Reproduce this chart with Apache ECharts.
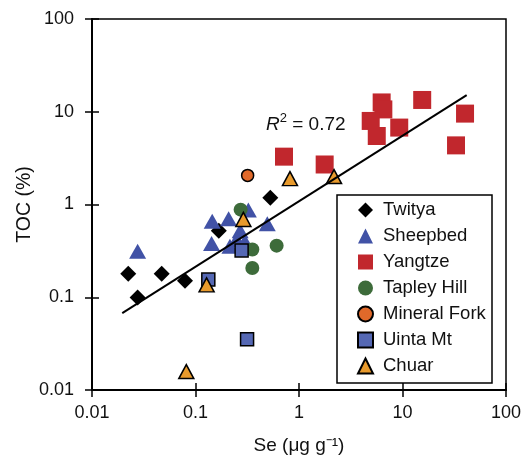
<!DOCTYPE html>
<html>
<head>
<meta charset="utf-8">
<script src="https://cdn.jsdelivr.net/npm/echarts@6/dist/echarts.min.js"></script>
<style>html,body{margin:0;padding:0;background:#fff}#c{width:524px;height:455px}</style>
</head>
<body>
<div id="c"></div>
<script>
var twitya = [[0.0224,0.179],[0.0276,0.0995],[0.0471,0.179],[0.0792,0.151],[0.168,0.52],[0.528,1.18]];
var sheepbed = [[0.0276,0.313],[0.145,0.66],[0.209,0.70],[0.324,0.87],[0.494,0.62],[0.143,0.379],[0.27,0.52],[0.215,0.355],[0.25,0.42],[0.30,0.40]];
var yangtze = [[0.716,3.28],[1.77,2.70],[6.29,12.6],[6.53,10.6],[4.93,7.96],[5.64,5.48],[9.3,6.75],[15.5,13.4],[40.2,9.55],[32.9,4.34]];
var tapleyHill = [[0.273,0.88],[0.354,0.327],[0.354,0.207],[0.608,0.36]];
var mineralFork = [[0.319,2.06]];
var uintaMt = [[0.133,0.155],[0.279,0.32],[0.315,0.0353]];
var chuar = [[0.0815,0.0158],[0.128,0.136],[0.29,0.69],[0.818,1.90],[2.18,2.0]];
var fitLine = [[0.0196,0.0675],[41.7,15.1]];
var tickValues = [0.01,0.1,1,10,100];

var chart = echarts.init(document.getElementById('c'), null, {renderer:'canvas'});
var font = 'Liberation Sans, Arial, Helvetica, sans-serif';
function fmt(v){ return String(+Number(v).toPrecision(3)); }
var axisBase = {
  type:'log', logBase:10, min:tickValues[0], max:tickValues[tickValues.length-1],
  splitLine:{show:false}, minorTick:{show:false}
};
function mkX(inside){
  return Object.assign({}, axisBase, {
    gridIndex:0, position:'bottom',
    axisLine:{show:!inside, lineStyle:{color:'#000', width:2}},
    axisTick:{show:true, inside:inside, length:7, lineStyle:{color:'#000', width:1.5}},
    axisLabel:{show:!inside, color:'#111', fontSize:18, fontFamily:font, margin:14, formatter:fmt},
    name: inside ? '' : 'Se (\u03bcg g\u207b\u00b9)',
    nameLocation:'middle', nameGap:46, nameMoveOverlap:false,
    nameTextStyle:{color:'#111', fontSize:19, fontFamily:font}
  });
}
function mkY(inside){
  return Object.assign({}, axisBase, {
    gridIndex:0, position:'left',
    axisLine:{show:!inside, lineStyle:{color:'#000', width:2}},
    axisTick:{show:true, inside:inside, length:7, lineStyle:{color:'#000', width:1.5}},
    axisLabel:{show:!inside, color:'#111', fontSize:18, fontFamily:font, margin:18, formatter:fmt},
    name: inside ? '' : 'TOC (%)',
    nameLocation:'middle', nameGap:57, nameRotate:90, nameMoveOverlap:false,
    nameTextStyle:{color:'#111', fontSize:19.5, fontFamily:font}
  });
}
function sc(name, data, symbol, size, color, border){
  return {
    name:name, type:'scatter', data:data, symbol:symbol, symbolSize:size,
    xAxisIndex:0, yAxisIndex:0,
    itemStyle:{color:color, borderColor: border ? '#000' : color, borderWidth: border ? 1.5 : 0, opacity:1},
    emphasis:{disabled:true}, z:3
  };
}
var option = {
  animation:false,
  grid:{left:92, right:18, top:19, bottom:65, show:true, borderColor:'#000', borderWidth:1.5,
        backgroundColor:'transparent', containLabel:false, outerBoundsMode:'none'},
  xAxis:[mkX(false), mkX(true)],
  yAxis:[mkY(false), mkY(true)],
  legend:{
    orient:'vertical', left:352, top:195, itemGap:6, itemWidth:15, itemHeight:15,
    textStyle:{color:'#111', fontSize:18.5, fontFamily:font, padding:[0,0,0,5], lineHeight:20},
    data:['Twitya','Sheepbed','Yangtze','Tapley Hill','Mineral Fork','Uinta Mt','Chuar'],
    selectedMode:false, z:10
  },
  graphic:[
    {type:'rect', shape:{x:337, y:195, width:155, height:188}, style:{fill:'#fff', stroke:'#000', lineWidth:1.5}, z:5},
    {type:'text', x:266, y:112, z:10, style:{
      text:'{i|R}{s|2}{n| = 0.72}', fill:'#111',
      rich:{
        i:{fontStyle:'italic', fontSize:19, fontFamily:font, fill:'#111', verticalAlign:'bottom', lineHeight:22},
        s:{fontSize:13, fontFamily:font, fill:'#111', verticalAlign:'top', lineHeight:22},
        n:{fontSize:19, fontFamily:font, fill:'#111', verticalAlign:'bottom', lineHeight:22}
      }
    }}
  ],
  series:[
    sc('Twitya', twitya, 'diamond', 16, '#000', false),
    sc('Sheepbed', sheepbed, 'triangle', [17,15], '#4152A6', false),
    sc('Yangtze', yangtze, 'rect', 18, '#C1272D', false),
    sc('Tapley Hill', tapleyHill, 'circle', 14, '#3D6B3A', false),
    sc('Mineral Fork', mineralFork, 'circle', 12, '#E0692A', true),
    sc('Uinta Mt', uintaMt, 'rect', 13, '#5568B4', true),
    sc('Chuar', chuar, 'triangle', [15,14], '#E89A2C', true),
    {type:'line', data:fitLine, symbol:'none', lineStyle:{color:'#000', width:2}, z:4, silent:true, xAxisIndex:0, yAxisIndex:0}
  ]
};
chart.setOption(option);
</script>
</body>
</html>
